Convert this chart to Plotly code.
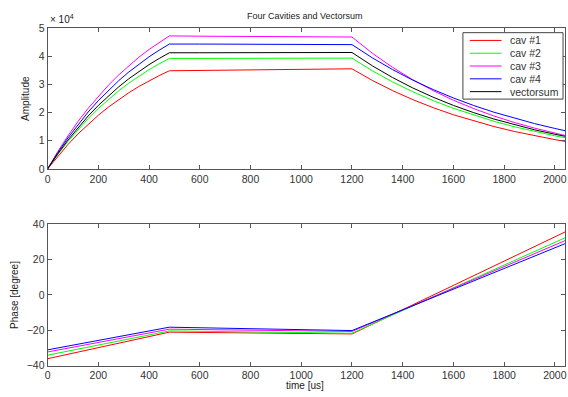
import plotly.graph_objects as go

# ---- data ----
t_amp = [0, 40, 80, 120, 160, 200, 240, 280, 320, 360, 400, 440, 480,
         600, 720, 840, 960, 1080, 1200,
         1280, 1360, 1440, 1520, 1600, 1680, 1760, 1840, 1920, 2000, 2040]
amp_cav1 = [0, 4540, 8660, 12460, 15910, 19090, 21990, 24640, 27080, 29320, 31340, 33190, 34900,
            35000, 35100, 35200, 35300, 35450, 35600,
            31480, 27850, 24630, 21780, 19260, 17040, 15070, 13320, 11780, 10420, 9800]
amp_cav2 = [0, 5110, 9750, 14030, 17920, 21500, 24760, 27750, 30500, 33010, 35290, 37370, 39300,
            39300, 39300, 39350, 39350, 39400, 39400,
            34920, 30950, 27430, 24310, 21550, 19100, 16930, 15000, 13290, 11780, 11100]
amp_cav3 = [0, 6150, 11730, 16890, 21570, 25870, 29800, 33390, 36700, 39730, 42480, 44980, 47300,
            47200, 47150, 47100, 47050, 47000, 46900,
            41160, 36130, 31710, 27840, 24430, 21440, 18820, 16520, 14500, 12720, 11900]
amp_cav4 = [0, 5770, 11010, 15850, 20250, 24290, 27970, 31350, 34450, 37300, 39870, 42220, 44400,
            44400, 44350, 44300, 44300, 44250, 44200,
            39510, 35320, 31570, 28220, 25230, 22550, 20160, 18020, 16110, 14400, 13600]
amp_vsum = [0, 5370, 10240, 14740, 18830, 22590, 26020, 29160, 32050, 34690, 37090, 39280, 41300,
            41300, 41300, 41350, 41350, 41400, 41400,
            36680, 32490, 28780, 25500, 22590, 20010, 17730, 15710, 13910, 12330, 11600]

t_ph = [0, 480, 1200, 2040]
ph_cav1 = [-36.0, -21.0, -22.0, 35.6]
ph_cav2 = [-34.0, -20.3, -21.6, 32.3]
ph_cav3 = [-32.2, -19.3, -20.6, 30.7]
ph_cav4 = [-31.0, -18.2, -20.1, 29.0]

names = ["cav #1", "cav #2", "cav #3", "cav #4", "vectorsum"]
colors = ["#ff0000", "#00ff00", "#ff00ff", "#0000ff", "#000000"]

x_ticks = [0, 200, 400, 600, 800, 1000, 1200, 1400, 1600, 1800, 2000]
amp_ticks = [0, 10000, 20000, 30000, 40000, 50000]
amp_ticktext = ["0", "1", "2", "3", "4", "5"]
ph_ticks = [-40, -20, 0, 20, 40]

FONT = "Liberation Sans, Arial"
W, H = 568, 397

fig = go.Figure()
for name, col, y in zip(names, colors, [amp_cav1, amp_cav2, amp_cav3, amp_cav4, amp_vsum]):
    fig.add_trace(go.Scatter(x=t_amp, y=y, mode="lines", name=name, showlegend=False,
                             line=dict(color=col, width=1), xaxis="x", yaxis="y"))
for name, col, y in zip(names[:4], colors[:4], [ph_cav1, ph_cav2, ph_cav3, ph_cav4]):
    fig.add_trace(go.Scatter(x=t_ph, y=y, mode="lines", name=name, showlegend=False,
                             line=dict(color=col, width=1), xaxis="x2", yaxis="y2"))

xd = [45 / W, 567 / W]
ax_common = dict(showline=True, linecolor="#555", linewidth=1, mirror="ticks",
                 ticks="inside", ticklen=4, tickcolor="#555", showgrid=False, zeroline=False,
                 ticklabeloverflow="allow",
                 tickfont=dict(family=FONT, size=10.5, color="#333"))


def px(x):
    return x / W


def py(y):
    return 1 - y / H


# MATLAB-style legend box (drawn in paper space)
shapes = [dict(type="rect", xref="paper", yref="paper", x0=px(464), x1=px(565),
               y0=py(96), y1=py(27.5), line=dict(color="#444", width=1), fillcolor="white",
               layer="above")]
annotations = []
for i, (name, col) in enumerate(zip(names, colors)):
    yc = 35.5 + i * 13.2
    shapes.append(dict(type="line", xref="paper", yref="paper", x0=px(471), x1=px(503),
                       y0=py(yc), y1=py(yc), line=dict(color=col, width=1), layer="above"))
    annotations.append(dict(text=name, x=px(509), y=py(yc), xref="paper", yref="paper",
                            xanchor="left", yanchor="middle", showarrow=False,
                            font=dict(family=FONT, size=10.5, color="#333")))

annotations += [
    dict(text="Four Cavities and Vectorsum", x=px(305), y=py(10), xref="paper", yref="paper",
         xanchor="center", yanchor="middle", showarrow=False, font=dict(size=9)),
    dict(text="× 10<sup>4</sup>", x=px(45), y=py(13), xref="paper", yref="paper",
         xanchor="left", yanchor="middle", showarrow=False, font=dict(size=10)),
    dict(text="Amplitude", x=px(22), y=py(95), xref="paper", yref="paper",
         xanchor="center", yanchor="middle", textangle=-90, showarrow=False, font=dict(size=10)),
    dict(text="Phase [degree]", x=px(12), y=py(298), xref="paper", yref="paper",
         xanchor="center", yanchor="middle", textangle=-90, showarrow=False, font=dict(size=10)),
    dict(text="time [us]", x=px(305), y=py(391), xref="paper", yref="paper",
         xanchor="center", yanchor="middle", showarrow=False, font=dict(size=10)),
]

fig.update_layout(
    width=W, height=H, margin=dict(l=0, r=0, t=0, b=0),
    paper_bgcolor="white", plot_bgcolor="white",
    font=dict(family=FONT, size=10, color="#222"),
    xaxis=dict(domain=xd, range=[0, 2040], tickvals=x_ticks, anchor="y", **ax_common),
    yaxis=dict(domain=[py(168), py(23)], range=[0, 50000], tickvals=amp_ticks,
               ticktext=amp_ticktext, anchor="x", **ax_common),
    xaxis2=dict(domain=xd, range=[0, 2040], tickvals=x_ticks, anchor="y2", **ax_common),
    yaxis2=dict(domain=[py(371), py(225)], range=[-40, 40], tickvals=ph_ticks,
                anchor="x2", **ax_common),
    showlegend=False,
    shapes=shapes,
    annotations=annotations,
)

fig.write_html("out.html")
